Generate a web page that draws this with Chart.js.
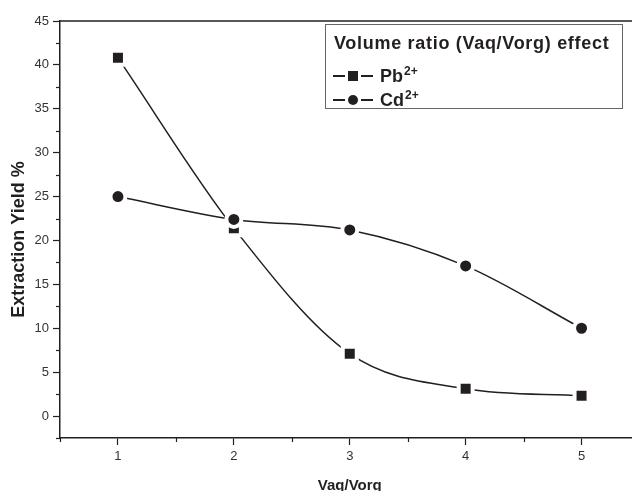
<!DOCTYPE html>
<html>
<head>
<meta charset="utf-8">
<script src="https://cdn.jsdelivr.net/npm/chart.js@4/dist/chart.umd.min.js"></script>
<style>
  html, body { margin: 0; padding: 0; background: #fff; overflow: hidden; }
  #wrap { position: relative; width: 660px; height: 495px; }
  #legend { position: absolute; left: 325px; top: 24px; width: 298px; height: 85px;
            border: 1px solid #666; background: #fff; font-family: 'Liberation Sans', Arial, sans-serif;
            font-weight: bold; color: #231f20; box-sizing: border-box; }
  .lt { position: absolute; left: 8px; top: 8.5px; font-size: 18px; line-height: 18px; letter-spacing: 0.7px; white-space: nowrap; }
  .row { position: absolute; left: 7px; height: 18px; line-height: 18px; display: flex; align-items: center; font-size: 18px; white-space: nowrap; }
  .dash { width: 12px; height: 2px; background: #231f20; }
  .sq { width: 10px; height: 10px; background: #231f20; margin: 0 3px; }
  .ci { width: 10px; height: 10px; border-radius: 50%; background: #231f20; margin: 0 3px; }
  .row span.t { margin-left: 7px; }
  sup { font-size: 12px; vertical-align: 7px; line-height: 0; margin-left: 1px; }
</style>
</head>
<body>
<div id="wrap">
  <canvas id="c" width="660" height="495"></canvas>
  <div id="legend">
    <div class="lt">Volume ratio (Vaq/Vorg) effect</div>
    <div class="row" style="top:41.75px"><div class="dash"></div><div class="sq"></div><div class="dash"></div><span class="t">Pb<sup>2+</sup></span></div>
    <div class="row" style="top:65.75px"><div class="dash"></div><div class="ci"></div><div class="dash"></div><span class="t">Cd<sup>2+</sup></span></div>
  </div>
</div>
<script>
const ratios = [1, 2, 3, 4, 5];
const pbValues = [40.8, 21.4, 7.1, 3.1, 2.3];
const cdValues = [25.0, 22.4, 21.2, 17.1, 10.0];
const seriesNames = ['Pb2+', 'Cd2+'];
const xTitle = 'Vaq/Vorg';
const yTitle = 'Extraction Yield %';

const FONT = "'Liberation Sans', Arial, sans-serif";
const INK = '#231f20';

const isMajorY = v => Math.abs(v % 5) < 1e-9;
const isMajorX = v => Math.abs(v % 1) < 1e-9;

const minorTicks = {
  id: 'minorTicks',
  afterDraw(chart) {
    const ctx = chart.ctx;
    const a = chart.chartArea;
    ctx.save();
    ctx.strokeStyle = INK;
    ctx.lineWidth = 1.2;
    const xs = chart.scales.x, ys = chart.scales.y;
    xs.ticks.forEach(t => {
      if (!isMajorX(t.value)) {
        const px = Math.round(xs.getPixelForValue(t.value)) + 0.5;
        ctx.beginPath(); ctx.moveTo(px, a.bottom); ctx.lineTo(px, a.bottom + 4); ctx.stroke();
      }
    });
    ys.ticks.forEach(t => {
      if (!isMajorY(t.value)) {
        const py = Math.round(ys.getPixelForValue(t.value)) + 0.5;
        ctx.beginPath(); ctx.moveTo(a.left, py); ctx.lineTo(a.left - 4, py); ctx.stroke();
      }
    });
    // frame top & right
    ctx.lineWidth = 1.5;
    ctx.beginPath();
    ctx.moveTo(a.left, a.top); ctx.lineTo(a.right, a.top); ctx.lineTo(a.right, a.bottom);
    ctx.stroke();
    ctx.restore();
  }
};

new Chart(document.getElementById('c'), {
  type: 'line',
  data: {
    datasets: [
      {
        label: seriesNames[1],
        data: ratios.map((x, i) => ({ x, y: cdValues[i] })),
        borderColor: INK, backgroundColor: INK, borderWidth: 1.5,
        pointStyle: 'circle', pointRadius: 7.5, pointBorderColor: '#fff', pointBorderWidth: 4,
        cubicInterpolationMode: 'monotone', order: 0
      },
      {
        label: seriesNames[0],
        data: ratios.map((x, i) => ({ x, y: pbValues[i] })),
        borderColor: INK, backgroundColor: INK, borderWidth: 1.5,
        pointStyle: 'rect', pointRadius: 9.9, pointBorderColor: '#fff', pointBorderWidth: 4,
        cubicInterpolationMode: 'monotone', order: 1
      }
    ]
  },
  options: {
    responsive: false,
    animation: false,
    devicePixelRatio: 1,
    layout: { padding: { top: 21, right: 20.5, left: 0, bottom: 0 } },
    plugins: { legend: { display: false }, tooltip: { enabled: false } },
    scales: {
      x: {
        type: 'linear', min: 0.5, max: 5.5,
        afterFit: s => { s.height = 57; },
        border: { color: INK, width: 1.5 },
        grid: { drawOnChartArea: false, tickLength: 7, tickWidth: 1.2,
                tickColor: c => (c.tick && isMajorX(c.tick.value)) ? INK : 'rgba(0,0,0,0)' },
        ticks: { stepSize: 0.5, autoSkip: false, maxRotation: 0, padding: 4,
                 color: '#333', font: { family: FONT, size: 13 },
                 callback: v => (isMajorX(v) && v >= 1 && v <= 5) ? String(v) : '' },
        title: { display: true, text: xTitle, color: INK, padding: 0,
                 font: { family: FONT, size: 15, weight: 'bold' } }
      },
      y: {
        type: 'linear', min: -2.5, max: 45,
        afterFit: s => { s.width = 60; },
        border: { color: INK, width: 1.5 },
        grid: { drawOnChartArea: false, tickLength: 7, tickWidth: 1.2,
                tickColor: c => (c.tick && isMajorY(c.tick.value)) ? INK : 'rgba(0,0,0,0)' },
        ticks: { stepSize: 2.5, autoSkip: false, padding: 4,
                 color: '#333', font: { family: FONT, size: 13 },
                 callback: v => isMajorY(v) ? String(v) : '' },
        title: { display: true, text: yTitle + '    ', color: INK, padding: { top: 8, bottom: 0 },
                 font: { family: FONT, size: 18, weight: 'bold' } }
      }
    }
  },
  plugins: [minorTicks]
});
</script>
</body>
</html>
